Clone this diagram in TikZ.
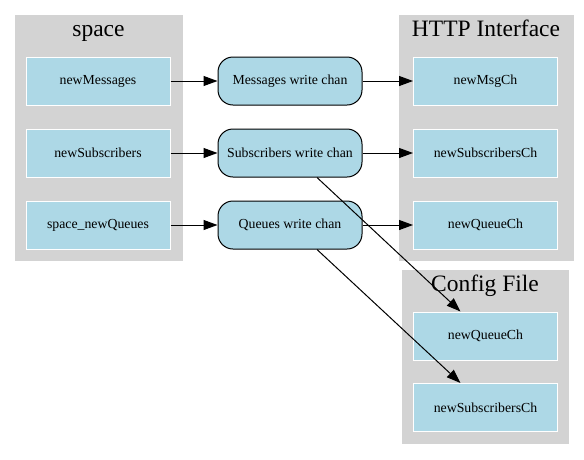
\documentclass[tikz,border=0pt]{standalone}
\usepackage{fontspec}
\setmainfont{Liberation Serif}
\usetikzlibrary{arrows.meta,calc}
\definecolor{lblue}{HTML}{ADD8E6}
\definecolor{lgrey}{HTML}{D3D3D3}
\tikzset{
  cluster/.style={fill=lgrey,draw=lgrey},
  ctitle/.style={font=\fontsize{23.5}{28}\selectfont,inner sep=0pt,anchor=base},
  inbox/.style={fill=lblue,draw=white,line width=1pt,minimum width=144pt,minimum height=48pt,inner sep=0pt,font=\fontsize{13.8}{16}\selectfont},
  chanbox/.style={fill=lblue,draw=black,line width=1pt,rounded corners=15pt,minimum width=144pt,minimum height=48pt,inner sep=0pt,font=\fontsize{13.8}{16}\selectfont},
  conn/.style={draw=black,line width=1pt,-{Triangle[length=14pt,width=10pt]}}
}
\begin{document}
\begin{tikzpicture}[x=1pt,y=-1pt]
\useasboundingbox (0,0) rectangle (584,459);
% clusters
\draw[cluster] (15,15) rectangle (182,260);
\draw[cluster] (399,15) rectangle (573,260);
\draw[cluster] (402,270) rectangle (568,443);
\node[ctitle] (tspace) at (98.5,36) {space};
\node[ctitle] (thttp) at (486,36) {HTTP Interface};
\node[ctitle] (tconf) at (485,291) {Config File};
% left nodes
\node[inbox] (nm) at (98,81) {newMessages};
\node[inbox] (ns) at (98,153) {newSubscribers};
\node[inbox] (nq) at (98,225) {space\_newQueues};
% channels
\node[chanbox] (mw) at (290,81) {Messages write chan};
\node[chanbox] (sw) at (290,153) {Subscribers write chan};
\node[chanbox] (qw) at (290,225) {Queues write chan};
% http
\node[inbox] (hm) at (485.5,81) {newMsgCh};
\node[inbox] (hs) at (485.5,153) {newSubscribersCh};
\node[inbox] (hq) at (485.5,225) {newQueueCh};
% config
\node[inbox] (cq) at (485.5,336) {newQueueCh};
\node[inbox] (cs) at (485.5,407.5) {newSubscribersCh};
% connectors
\draw[conn] (nm) -- (mw);
\draw[conn] (ns) -- (sw);
\draw[conn] (nq) -- (qw);
\draw[conn] (mw) -- (hm);
\draw[conn] (sw) -- (hs);
\draw[conn] (qw) -- (hq);
\draw[conn] ($(sw.south)+(27,0)$) -- ($(cq.north)+(-25,0)$);
\draw[conn] ($(qw.south)+(27,0)$) -- ($(cs.north)+(-25,0)$);
\end{tikzpicture}
\end{document}
